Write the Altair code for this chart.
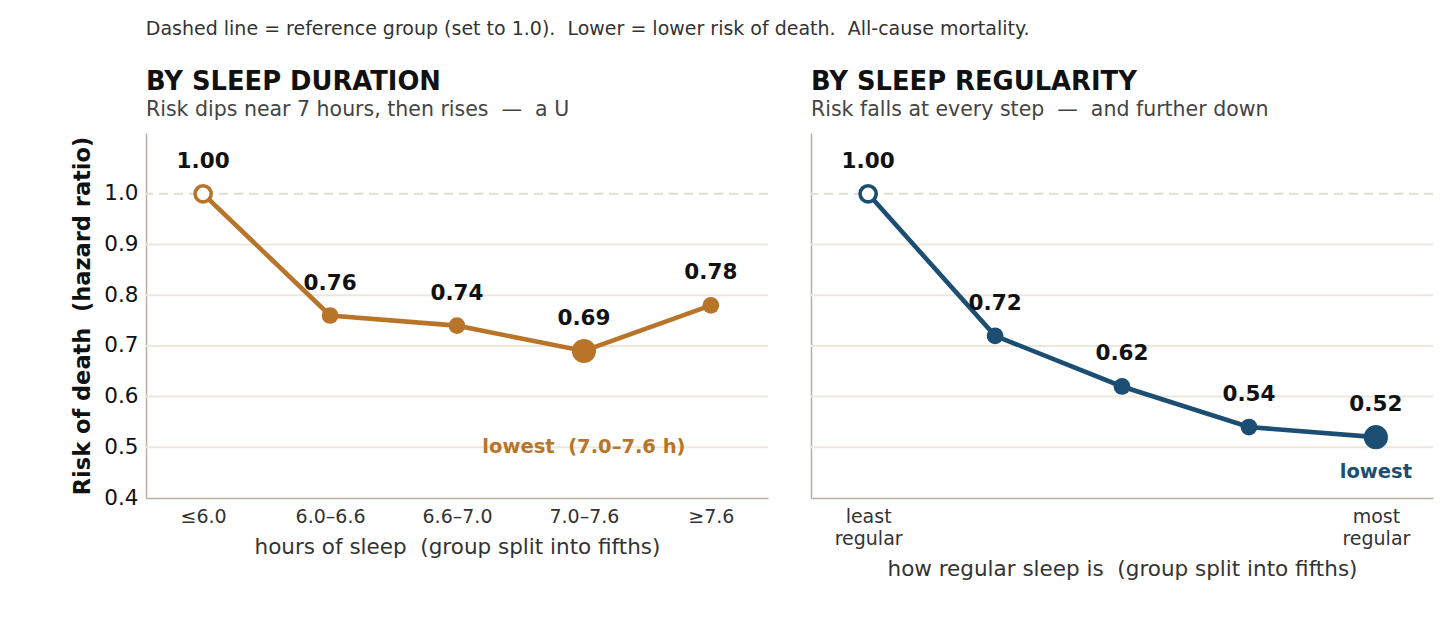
import json
import altair as alt
import pandas as pd

# Hazard ratios by fifth of the cohort (first group = reference, 1.0)
dur_groups = ["≤6.0", "6.0–6.6", "6.6–7.0", "7.0–7.6", "≥7.6"]
dur_hr = [1.00, 0.76, 0.74, 0.69, 0.78]
dur_lowest = 3

reg_groups = [["least", "regular"], "", "", "", ["most", "regular"]]
reg_hr = [1.00, 0.72, 0.62, 0.54, 0.52]
reg_lowest = 4

grid_values = [0.5, 0.6, 0.7, 0.8, 0.9]
ref_value = 1.0
y_ticks = [0.4, 0.5, 0.6, 0.7, 0.8, 0.9, 1.0]

ORANGE = "#b8752a"
BLUE = "#1c4e73"
FONT = "DejaVu Sans"


def keep_spaces(s):
    # SVG collapses runs of spaces; keep the wide gaps with a non-breaking space
    return s.replace("  ", " \u00a0")


def panel(hr, groups, lowest, color, note, note_y, title, subtitle, xtitle, show_y):
    df = pd.DataFrame({
        "idx": list(range(len(hr))),
        "hr": hr,
        "role": ["ref" if i == 0 else ("low" if i == lowest else "mid") for i in range(len(hr))],
    })
    x_axis = alt.Axis(
        values=list(range(len(hr))),
        labelExpr=f"{json.dumps(groups, ensure_ascii=False)}[datum.value]",
        title=keep_spaces(xtitle), titleFontSize=21.5, titleFontWeight="normal", titleColor="#333",
        titlePadding=10, labelFontSize=19, labelColor="#333", labelPadding=9,
        labelLineHeight=22, ticks=False, grid=False, domainColor="#b8b0a0", domainWidth=1.5,
    )
    if show_y:
        y_axis = alt.Axis(
            values=y_ticks, format=".1f", title=keep_spaces("Risk of death  (hazard ratio)"),
            titleFontSize=22.5, titleFontWeight="bold", titleColor="#111", titlePadding=9,
            labelFontSize=21.5, labelColor="#111", labelPadding=8, ticks=False, grid=False,
            domainColor="#b8b0a0", domainWidth=1.5,
        )
    else:
        y_axis = alt.Axis(labels=False, ticks=False, title=None, grid=False,
                          domainColor="#b8b0a0", domainWidth=1.5)

    x = alt.X("idx:Q", scale=alt.Scale(domain=[-0.45, 4.45], nice=False, zero=False), axis=x_axis)
    y = alt.Y("hr:Q", scale=alt.Scale(domain=[0.4, 1.12], nice=False, zero=False), axis=y_axis)

    grid = alt.Chart(pd.DataFrame({"g": grid_values})).mark_rule(
        color="#ede8dc", strokeWidth=2).encode(y="g:Q")
    ref = alt.Chart(pd.DataFrame({"g": [ref_value]})).mark_rule(
        color="#e3e0d8", strokeWidth=2.4, strokeDash=[9, 6]).encode(y="g:Q")

    base = alt.Chart(df).encode(x=x, y=y)
    line = base.mark_line(color=color, strokeWidth=4.6)
    mids = base.transform_filter("datum.role == 'mid'").mark_circle(
        size=280, color=color, opacity=1)
    low = base.transform_filter("datum.role == 'low'").mark_circle(
        size=580, color=color, opacity=1)
    refpt = base.transform_filter("datum.role == 'ref'").mark_point(
        shape="circle", filled=True, fill="white", stroke=color, strokeWidth=3.6,
        size=260, opacity=1)
    labels = base.mark_text(
        dy=-32, fontSize=21.5, fontWeight="bold", color="#111", font=FONT
    ).encode(text=alt.Text("hr:Q", format=".2f"))

    note_df = pd.DataFrame({"idx": [lowest], "hr": [note_y], "t": [keep_spaces(note)]})
    note_mark = alt.Chart(note_df).mark_text(
        fontSize=19.5, fontWeight="bold", color=color, font=FONT
    ).encode(x="idx:Q", y="hr:Q", text="t:N")

    return alt.layer(grid, ref, line, mids, low, refpt, labels, note_mark).properties(
        width=622, height=365,
        title=alt.Title(
            text=title, subtitle=keep_spaces(subtitle), anchor="start", frame="group",
            fontSize=25.8, fontWeight="bold", color="#111",
            subtitleFontSize=20.5, subtitleColor="#444", subtitleFontWeight="normal",
            subtitlePadding=4, offset=12, font=FONT, subtitleFont=FONT,
        ),
    )


left = panel(dur_hr, dur_groups, dur_lowest, ORANGE, "lowest  (7.0–7.6 h)", 0.5,
             "BY SLEEP DURATION", "Risk dips near 7 hours, then rises  —  a U",
             "hours of sleep  (group split into fifths)", True)
right = panel(reg_hr, reg_groups, reg_lowest, BLUE, "lowest", 0.452,
              "BY SLEEP REGULARITY", "Risk falls at every step  —  and further down",
              "how regular sleep is  (group split into fifths)", False)

chart = alt.hconcat(left, right, spacing=39).properties(
    title=alt.Title(
        keep_spaces("Dashed line = reference group (set to 1.0).  Lower = lower risk of death.  All-cause mortality."),
        anchor="start", fontSize=19, fontWeight="normal", color="#333", font=FONT,
        dx=74, offset=30,
    ),
    padding={"left": 71, "top": 19, "right": 5, "bottom": 5},
).configure(font=FONT).configure_view(stroke=None)

chart.save("out.html", embed_options={"renderer": "svg", "actions": False})
